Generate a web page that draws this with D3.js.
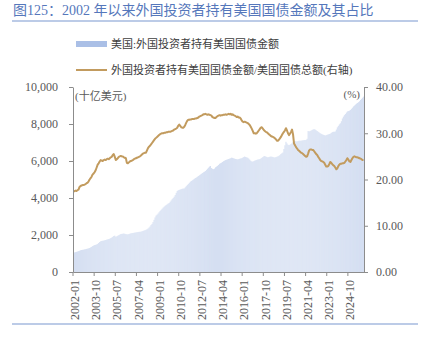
<!DOCTYPE html>
<html><head><meta charset="utf-8">
<script src="https://cdn.jsdelivr.net/npm/d3@7"></script>
<style>body{margin:0;background:#fff;} svg{display:block;}</style>
</head><body>
<svg id="c" width="424" height="350"></svg>
<script>
const startYear = 2002;
// 美国:外国投资者持有美国国债金额 (十亿美元), monthly from 2002-01
const holdings = [
1050,1060,1075,1090,1110,1130,1150,1175,1190,1200,1210,1225,
1235,1250,1265,1280,1300,1330,1360,1400,1430,1455,1470,1490,
1520,1570,1620,1660,1680,1690,1700,1715,1730,1750,1765,1780,
1800,1830,1860,1900,1945,1965,1910,1925,1960,1990,2020,2050,
2060,2070,2080,2065,2050,2040,2035,2050,2070,2090,2100,2110,
2120,2130,2140,2150,2160,2170,2175,2180,2200,2220,2240,2260,
2280,2310,2350,2400,2460,2540,2600,2700,2820,2950,3050,3100,
3160,3230,3300,3360,3420,3480,3530,3580,3620,3660,3700,3730,
3800,3870,3940,4000,4070,4160,4280,4380,4420,4440,4460,4480,
4500,4510,4520,4580,4640,4700,4760,4820,4880,4920,4960,5000,
5040,5080,5110,5150,5190,5230,5270,5310,5350,5390,5420,5460,
5520,5580,5640,5700,5730,5620,5580,5560,5590,5660,5700,5740,
5790,5850,5880,5910,5950,5990,6020,6050,6070,6090,6110,6130,
6150,6180,6170,6150,6130,6110,6100,6090,6100,6120,6140,6150,
6180,6210,6240,6220,6200,6180,6140,6080,6020,5980,5970,5990,
6020,6040,6060,6080,6090,6100,6130,6170,6210,6250,6270,6240,
6220,6200,6210,6230,6240,6230,6220,6200,6190,6210,6230,6250,
6280,6320,6380,6420,6460,6650,6850,7040,6950,6880,6860,6880,
6920,6960,7020,7080,7080,7060,7060,7080,7100,7090,7100,7110,
7120,7130,7130,7140,7200,7620,7600,7620,7650,7680,7710,7720,
7700,7660,7620,7580,7540,7500,7470,7440,7420,7400,7380,7400,
7420,7440,7460,7480,7520,7560,7580,7580,7600,7700,7820,7900,
7980,8040,8150,8300,8400,8480,8540,8620,8680,8700,8720,8760,
8820,8880,8950,9000,9050,9100,9140,9180,9230,9300,9360,9420,
9480
];
// 外国投资者持有美国国债金额/美国国债总额 (%), right axis
const share = [
17.4,17.5,17.6,17.5,17.7,17.8,18.4,18.6,18.7,18.8,18.8,18.9,
19.0,19.2,19.3,19.6,20.0,20.3,20.6,21.1,21.3,21.6,22.0,22.6,
23.2,23.5,23.9,24.2,24.1,24.0,24.2,24.3,24.2,24.4,24.5,24.4,
24.6,24.8,24.9,25.3,25.5,24.9,24.2,24.4,24.6,24.9,25.0,25.1,
25.0,25.0,24.8,24.7,24.6,23.6,23.5,23.7,23.9,24.0,24.1,24.2,
24.4,24.5,24.6,24.7,24.8,24.9,25.0,25.2,25.4,25.6,25.7,25.8,
25.8,26.3,26.8,27.1,27.3,27.6,27.9,28.2,28.5,28.8,29.0,29.2,
29.4,29.6,29.8,29.9,30.0,30.0,30.1,30.1,30.2,30.2,30.3,30.3,
30.3,30.4,30.5,30.6,30.8,30.9,31.0,31.2,31.6,31.9,31.6,31.3,
31.2,31.2,31.4,31.8,32.3,32.7,32.9,32.9,33.0,33.0,33.1,33.1,
33.1,33.2,33.2,33.3,33.4,33.6,33.7,33.8,33.9,34.1,34.1,34.2,
34.1,34.0,34.1,34.0,33.9,33.8,33.5,33.4,33.3,33.3,33.5,33.7,
33.8,33.9,33.8,33.9,33.9,34.0,34.0,34.1,34.0,34.1,34.2,34.1,
34.2,34.0,34.1,33.9,33.8,33.7,33.5,33.6,33.4,33.4,33.2,32.8,
32.5,32.4,32.5,32.4,32.3,32.2,32.0,31.8,31.4,31.0,30.5,30.0,
30.0,29.9,30.0,30.3,30.6,30.9,31.2,31.3,31.0,30.7,30.5,30.3,
30.2,30.0,29.8,29.6,29.4,29.3,29.2,29.1,28.9,28.7,28.4,28.4,
28.6,28.9,29.2,29.6,30.0,30.3,30.6,31.1,30.6,30.0,29.6,29.9,
30.3,30.8,29.8,27.8,27.4,27.0,26.7,26.4,26.2,26.0,25.8,25.7,
25.5,25.3,25.1,24.9,25.0,25.6,26.3,26.5,26.5,26.4,26.4,26.1,
25.8,25.5,25.3,24.9,24.6,24.2,24.0,23.9,23.8,23.6,23.2,22.8,
22.8,22.9,23.3,23.8,23.6,23.3,23.1,22.9,22.6,22.2,22.4,22.9,
23.2,23.4,23.4,23.5,23.5,23.6,23.9,24.2,24.6,24.3,23.9,23.8,
24.2,24.6,24.9,25.0,24.9,24.8,24.8,24.7,24.6,24.5,24.4,24.2,
24.2
];
const tickLabels = ["2002-01","2003-10","2005-07","2007-04","2009-01","2010-10","2012-07",
  "2014-04","2016-01","2017-10","2019-07","2021-04","2023-01","2024-10"];
const leftTicks = [0,2000,4000,6000,8000,10000];
const rightTicks = [0,10,20,30,40];
const seriesNames = ["美国:外国投资者持有美国国债金额","外国投资者持有美国国债金额/美国国债总额(右轴)"];
const titleText = "图125：2002 年以来外国投资者持有美国国债金额及其占比";
const categories = holdings.map((d,i)=>{
  const y = startYear + Math.floor(i/12), m = i%12+1;
  return y + "-" + String(m).padStart(2,"0");
});

const svg = d3.select("#c");
const FONT = "'Liberation Serif','Noto Sans CJK SC',serif";
const TXT = "#595959";
const AX = "#8c8c8c";

// title
svg.append("text").attr("x",13).attr("y",15).attr("font-family",FONT)
  .attr("font-size",14).attr("fill","#5577bb").text(titleText);
svg.append("line").attr("x1",12).attr("x2",418).attr("y1",21).attr("y2",21)
  .attr("stroke","#7a97cf").attr("stroke-width",1.2);
svg.append("line").attr("x1",12).attr("x2",418).attr("y1",324).attr("y2",324)
  .attr("stroke","#7a97cf").attr("stroke-width",1.2);

// legend
const barColor = "#d5dff2";
const lineColor = "#c29b5e";
svg.append("rect").attr("x",76).attr("y",41).attr("width",31).attr("height",6).attr("fill","#aabfe6");
svg.append("text").attr("x",111).attr("y",44).attr("dy","0.35em").attr("font-family",FONT)
  .attr("font-size",11).attr("fill","#404040").text(seriesNames[0]);
svg.append("line").attr("x1",76).attr("x2",107).attr("y1",70).attr("y2",70)
  .attr("stroke",lineColor).attr("stroke-width",2);
svg.append("text").attr("x",111).attr("y",70).attr("dy","0.35em").attr("font-family",FONT)
  .attr("font-size",11).attr("fill","#404040").text(seriesNames[1]);

// scales
const x = d3.scaleBand().domain(categories).range([73,364]).padding(0);
const yL = d3.scaleLinear().domain([0,10000]).range([272,87]);
const yR = d3.scaleLinear().domain([0,40]).range([272,87]);

// bars
svg.append("g").selectAll("rect").data(holdings).join("rect")
  .attr("x",(d,i)=>x(categories[i]))
  .attr("width",x.bandwidth())
  .attr("y",d=>yL(d))
  .attr("height",d=>yL(0)-yL(d))
  .attr("fill",barColor);

// line
const line = d3.line().x((d,i)=>x(categories[i])+x.bandwidth()/2).y(d=>yR(d));
svg.append("path").datum(share).attr("d",line).attr("fill","none")
  .attr("stroke",lineColor).attr("stroke-width",2).attr("stroke-linejoin","round");

function styleAxis(g){
  g.select(".domain").attr("stroke",AX);
  g.selectAll(".tick line").attr("stroke",AX);
  g.selectAll(".tick text").attr("fill",TXT).attr("font-family",FONT).attr("font-size",12);
}
// left axis
const gl = svg.append("g").attr("transform","translate(73,0)")
  .call(d3.axisLeft(yL).tickValues(leftTicks).tickFormat(d3.format(",")).tickSize(4).tickSizeOuter(0).tickPadding(11));
styleAxis(gl);
// right axis
const gr = svg.append("g").attr("transform","translate(364,0)")
  .call(d3.axisRight(yR).tickValues(rightTicks).tickFormat(d3.format(".2f")).tickSize(4).tickSizeOuter(0).tickPadding(8));
styleAxis(gr);
// bottom axis
const gb = svg.append("g").attr("transform","translate(0,272)")
  .call(d3.axisBottom(x).tickValues(tickLabels).tickSize(4).tickSizeOuter(0));
gb.selectAll(".tick").attr("transform",d=>`translate(${x(d)},0)`);
styleAxis(gb);
gb.selectAll(".tick text").attr("transform","rotate(-90)").attr("text-anchor","end")
  .attr("x",-8).attr("y",2).attr("dy","0.35em");

// unit labels
svg.append("text").attr("x",75).attr("y",96).attr("dy","0.35em").attr("font-family",FONT)
  .attr("font-size",11).attr("fill",TXT).text("(十亿美元)");
svg.append("text").attr("x",360).attr("y",94).attr("dy","0.35em").attr("text-anchor","end")
  .attr("font-family",FONT).attr("font-size",11).attr("fill",TXT).text("(%)");
</script>
</body></html>
